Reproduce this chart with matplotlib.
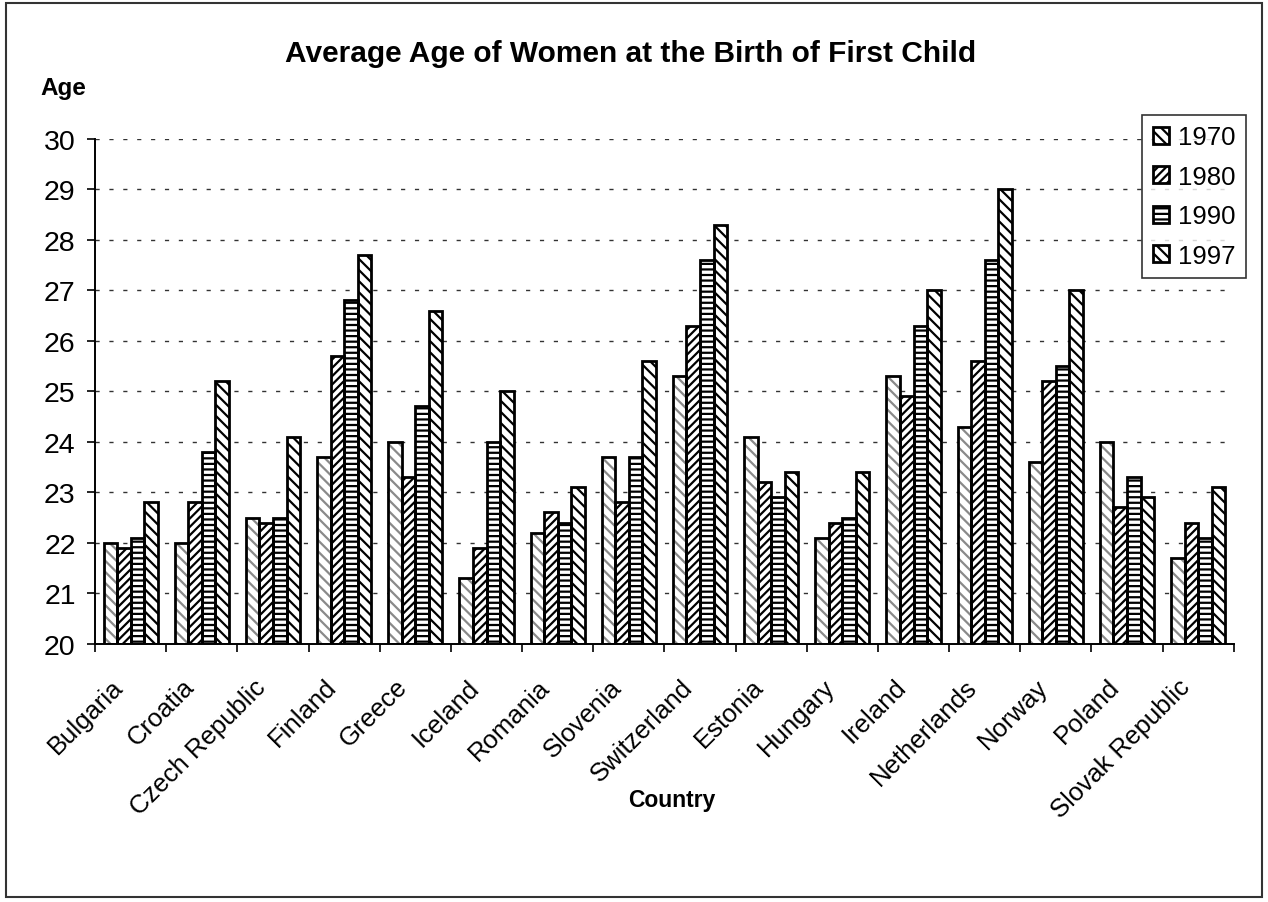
import numpy as np
import matplotlib.pyplot as plt
from matplotlib.patches import Rectangle
from matplotlib.transforms import ScaledTranslation

plt.rcParams['font.family'] = ['Liberation Sans', 'DejaVu Sans']
plt.rcParams['hatch.linewidth'] = 1.6

countries = ["Bulgaria", "Croatia", "Czech Republic", "Finland", "Greece", "Iceland",
             "Romania", "Slovenia", "Switzerland", "Estonia", "Hungary", "Ireland",
             "Netherlands", "Norway", "Poland", "Slovak Republic"]
years = ["1970", "1980", "1990", "1997"]

age_1970 = [22.0, 22.0, 22.5, 23.7, 24.0, 21.3, 22.2, 23.7, 25.3, 24.1, 22.1, 25.3, 24.3, 23.6, 24.0, 21.7]
age_1980 = [21.9, 22.8, 22.4, 25.7, 23.3, 21.9, 22.6, 22.8, 26.3, 23.2, 22.4, 24.9, 25.6, 25.2, 22.7, 22.4]
age_1990 = [22.1, 23.8, 22.5, 26.8, 24.7, 24.0, 22.4, 23.7, 27.6, 22.9, 22.5, 26.3, 27.6, 25.5, 23.3, 22.1]
age_1997 = [22.8, 25.2, 24.1, 27.7, 26.6, 25.0, 23.1, 25.6, 28.3, 23.4, 23.4, 27.0, 29.0, 27.0, 22.9, 23.1]

series = [age_1970, age_1980, age_1990, age_1997]
hatches = ['\\\\\\', '////', '---', '\\\\\\']
hatch_cols = ['#8a8a8a', 'black', 'black', 'black']

fig = plt.figure(figsize=(12.68, 9.03), dpi=100)
ax = fig.add_axes([0.075, 0.286, 0.898, 0.559])

x = np.arange(len(countries))
w = 0.19
handles = []
for i, vals in enumerate(series):
    pos = x + (i - 1.5) * w
    vals = np.array(vals)
    # hatch layer, then a plain black outline on top
    ax.bar(pos, vals - 20, w, bottom=20, color='white', hatch=hatches[i],
           edgecolor=hatch_cols[i], linewidth=0, zorder=2)
    ax.bar(pos, vals - 20, w, bottom=20, fill=False, edgecolor='black',
           linewidth=2, zorder=3)
    h = Rectangle((0, 0), 1, 1, facecolor='white', hatch=hatches[i],
                  edgecolor='black', linewidth=2)
    handles.append(h)

ax.set_ylim(20, 30)
ax.set_xlim(-0.5, len(countries) - 0.5)
ax.set_yticks(range(20, 31))
ax.tick_params(axis='y', labelsize=20.5, length=6, width=1.2, pad=8)
ax.yaxis.grid(True, linestyle=(0, (3, 7)), color='#333333', linewidth=1)
ax.set_axisbelow(True)

ax.set_xticks(np.arange(len(countries) + 1) - 0.5)
ax.set_xticklabels([])
ax.tick_params(axis='x', length=6, width=1.2)
ax.set_xticks(x, minor=True)
ax.set_xticklabels(countries, minor=True, rotation=45, ha='right',
                   rotation_mode='anchor', fontsize=18.5)
ax.tick_params(axis='x', which='minor', length=0, pad=22)
shift = ScaledTranslation(-20 / 100, 0, fig.dpi_scale_trans)
for lab in ax.get_xticklabels(minor=True):
    lab.set_transform(lab.get_transform() + shift)

for s in ['top', 'right']:
    ax.spines[s].set_visible(False)
for s in ['left', 'bottom']:
    ax.spines[s].set_linewidth(1.4)

fig.text(0.497, 0.940, "Average Age of Women at the Birth of First Child",
         ha='center', va='center', fontsize=21.5, fontweight='bold')
fig.text(0.032, 0.902, "Age", ha='left', va='center', fontsize=17.5, fontweight='bold')
fig.text(0.53, 0.114, "Country", ha='center', va='center', fontsize=16.5, fontweight='bold')

leg = fig.legend(handles, years, loc='upper left', bbox_to_anchor=(0.901, 0.8715),
                 fontsize=18.5, frameon=True, fancybox=False, handlelength=0.65,
                 handleheight=0.65, handletextpad=0.35, labelspacing=0.6,
                 borderpad=0.4, borderaxespad=0)
leg.get_frame().set_edgecolor('black')
leg.get_frame().set_linewidth(1.2)

fig.patches.append(Rectangle((0.005, 0.006), 0.99, 0.99, transform=fig.transFigure,
                             fill=False, edgecolor='#333333', linewidth=1.5))

fig.savefig('out.png', dpi=100)
